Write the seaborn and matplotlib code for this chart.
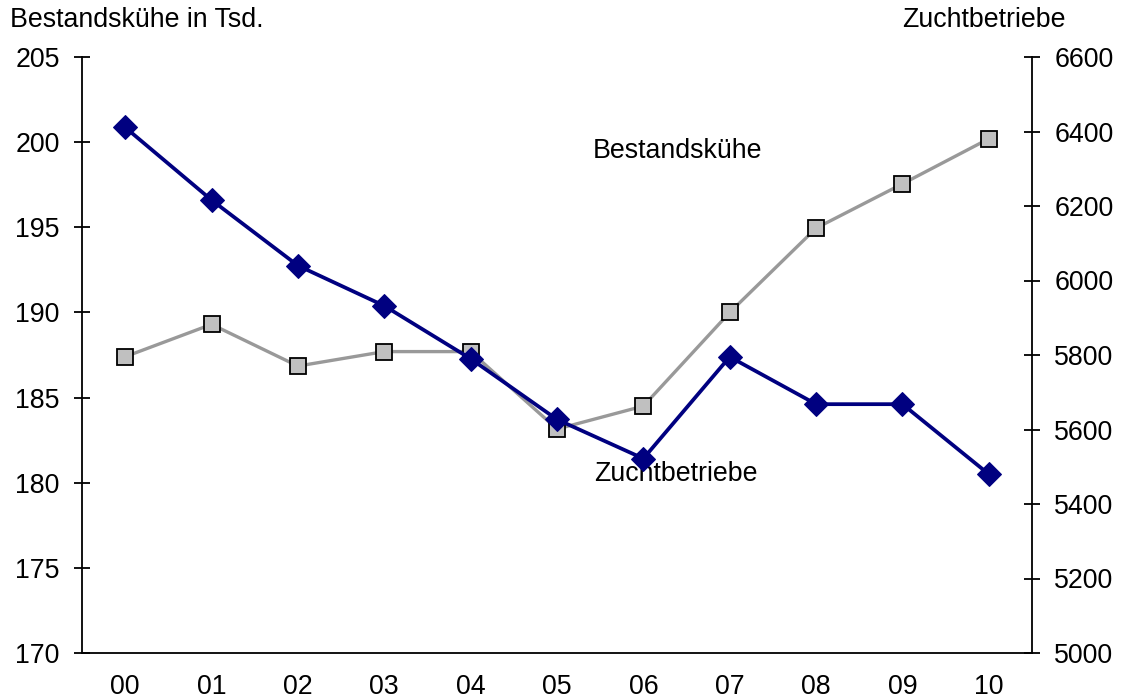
import pandas as pd
import seaborn as sns
import matplotlib.pyplot as plt

# DATA
years = ['00', '01', '02', '03', '04', '05', '06', '07', '08', '09', '10']
bestandskuehe = [187.4, 189.3, 186.85, 187.7, 187.7, 183.15, 184.5, 190.0, 194.95, 197.55, 200.2]
zuchtbetriebe = [6411, 6216, 6040, 5932, 5790, 5627, 5522, 5795, 5668, 5668, 5480]

left_ticks = [170, 175, 180, 185, 190, 195, 200, 205]
right_ticks = [5000, 5200, 5400, 5600, 5800, 6000, 6200, 6400, 6600]

df = pd.DataFrame({'year': years, 'kuehe': bestandskuehe, 'betriebe': zuchtbetriebe})
df['pos'] = range(len(df))

sns.set_style('white')
plt.rcParams['font.family'] = ['Liberation Sans', 'DejaVu Sans']
plt.rcParams['text.color'] = 'black'
plt.rcParams['xtick.color'] = 'black'
plt.rcParams['ytick.color'] = 'black'
plt.rcParams['xtick.labelcolor'] = 'black'
plt.rcParams['ytick.labelcolor'] = 'black'

FS = 19.3

fig = plt.figure(figsize=(11.21, 7), dpi=100)
ax = fig.add_axes([82 / 1121, 47 / 700, 950 / 1121, 596 / 700])

sns.lineplot(data=df, x='pos', y='kuehe', ax=ax, color='#999999', linewidth=2.4,
             marker='s', markersize=12, markerfacecolor='#c0c0c0',
             markeredgecolor='black', markeredgewidth=1.3)

ax2 = ax.twinx()
sns.lineplot(data=df, x='pos', y='betriebe', ax=ax2, color='#000080', linewidth=2.7,
             marker='D', markersize=12, markerfacecolor='#000080',
             markeredgecolor='#000080')

ax.set_xlim(-0.5, len(years) - 0.5)
ax.set_ylim(170, 205)
ax2.set_ylim(5000, 6600)
ax.set_yticks(left_ticks)
ax2.set_yticks(right_ticks)

# category labels centred, tick marks on the boundaries
ax.set_xticks(range(len(years)))
ax.set_xticklabels(years)
ax.set_xticks([i + 0.5 for i in range(len(years) - 1)], minor=True)
ax.tick_params(axis='x', which='major', length=0, labelsize=FS, pad=15)
ax.tick_params(axis='x', which='minor', direction='inout', length=12, width=1.3, color='black')
ax.tick_params(axis='y', direction='inout', length=12, width=1.3, labelsize=FS, pad=10, left=True)
ax2.tick_params(axis='y', direction='inout', length=12, width=1.3, labelsize=FS, pad=10, right=True)

for a in (ax, ax2):
    a.set_xlabel('')
    a.set_ylabel('')
    a.spines['top'].set_visible(False)
    for s in ('left', 'right', 'bottom'):
        a.spines[s].set_color('black')
        a.spines[s].set_linewidth(1.3)
ax.spines['right'].set_visible(False)
ax2.spines['left'].set_visible(False)
ax2.spines['bottom'].set_visible(False)

fig.text(10 / 1121, 1 - 20 / 700, 'Bestandskühe in Tsd.', fontsize=FS, va='center', ha='left')
fig.text(1066 / 1121, 1 - 20 / 700, 'Zuchtbetriebe', fontsize=FS, va='center', ha='right')

ax.text(5.41, 199.5, 'Bestandskühe', fontsize=FS, ha='left', va='center')
ax.text(5.43, 180.5, 'Zuchtbetriebe', fontsize=FS, ha='left', va='center')

fig.savefig('out.png', dpi=100)
